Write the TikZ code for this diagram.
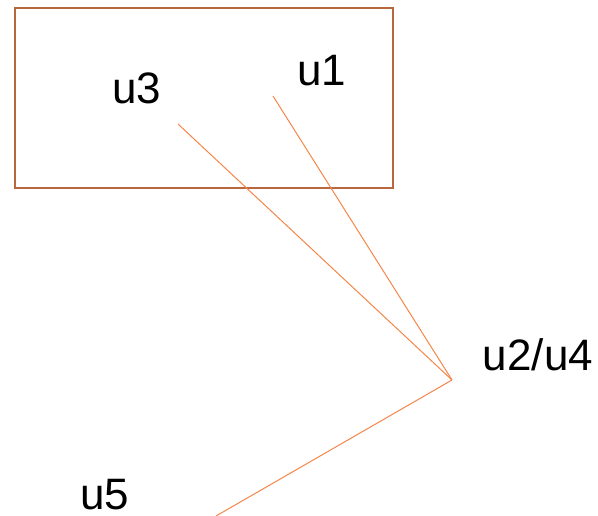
\documentclass[tikz,border=0pt]{standalone}
\usepackage{fontspec}
\setmainfont{Liberation Sans}
\definecolor{boxbrown}{HTML}{B8683C}
\definecolor{edgeorange}{HTML}{F4864A}
\begin{document}
\begin{tikzpicture}[x=1pt,y=-1pt,
  lbl/.style={font=\fontsize{44}{44}\selectfont, inner sep=0pt, text=black, anchor=base},
  edge/.style={draw=edgeorange, line width=1pt}]
\useasboundingbox (0,0) rectangle (598,515);
% group frame
\node[draw=boxbrown, line width=2pt, minimum width=378pt, minimum height=180pt, inner sep=0pt] (frame) at (204,98) {};
% labels (placed by their baselines)
\node[lbl] (u3) at (137,103) {u3};
\node[lbl] (u1) at (322,85) {u1};
\node[lbl] (u24) at (538,370) {u2/u4};
\node[lbl] (u5) at (105,509) {u5};
% connector ends
\coordinate (p3) at (178,124);
\coordinate (p1) at (273,96);
\coordinate (j) at (452,380);
\coordinate (p5) at (216,516);
\draw[edge] (p3) -- (j);
\draw[edge] (p1) -- (j);
\draw[edge] (j) -- (p5);
\end{tikzpicture}
\end{document}
